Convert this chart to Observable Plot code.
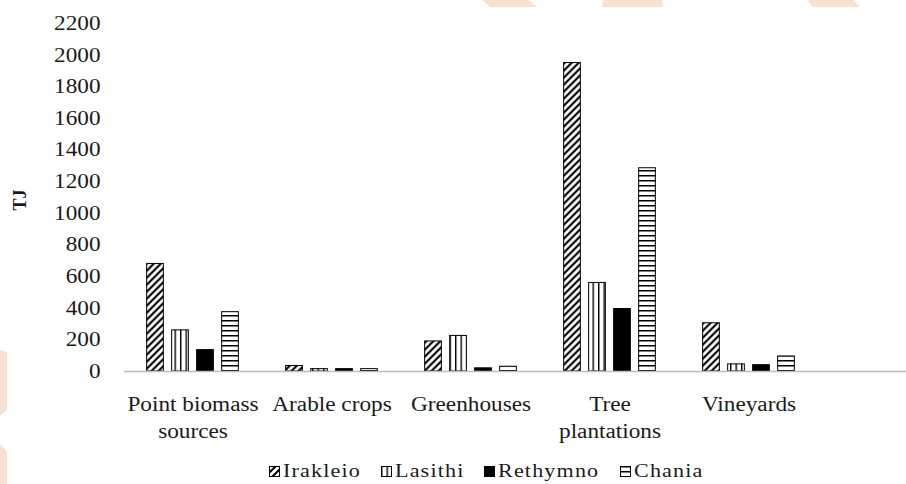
<!DOCTYPE html>
<html>
<head>
<meta charset="utf-8">
<script src="https://cdn.jsdelivr.net/npm/d3@7"></script>
<script src="https://cdn.jsdelivr.net/npm/@observablehq/plot@0.6"></script>
<style>
  html, body { margin: 0; padding: 0; background: #ffffff; }
  body { width: 906px; height: 484px; position: relative; overflow: hidden; font-family: "Liberation Serif", "DejaVu Serif", "Noto Serif", serif; }
  #watermark { position: absolute; left: 0; top: 0; z-index: 0; }
  #chart { position: relative; z-index: 1; height: 448px; }
  #legend { position: relative; z-index: 1; display: flex; justify-content: center; align-items: center;
            height: 30px; margin-top: 8px; padding-left: 66px; font-size: 19px; line-height: 22px; color: #1a1a1a; }
  .item { display: flex; align-items: center; }
  .sw { width: 11px; height: 11px; margin-right: 3px; display: block; }
  .lab { display: inline-block; transform-origin: left center; letter-spacing: 1px; white-space: nowrap; }
</style>
</head>
<body>
<svg id="watermark" width="906" height="484">
  <g fill="#f7e1d0">
    <polygon points="482,0 528,0 537,7 490,7"></polygon>
    <polygon points="603,0 662,0 663,7 602,7"></polygon>
    <polygon points="807,0 853,0 860,7 813,7"></polygon>
    <polygon points="0,350 7,352 7,410 0,416"></polygon>
    <polygon points="0,444 7,452 7,484 0,484"></polygon>
  </g>
</svg>
<svg width="0" height="0" style="position:absolute">
  <defs>
    <pattern id="pat-diag" patternUnits="userSpaceOnUse" width="7" height="7">
      <rect width="7" height="7" fill="#fff"></rect>
      <path d="M-1,1 l2,-2 M0,7 l7,-7 M6,8 l2,-2" stroke="#000" stroke-width="2.1"></path>
    </pattern>
    <pattern id="pat-vert" patternUnits="userSpaceOnUse" width="5.5" height="10">
      <rect width="5.5" height="10" fill="#fff"></rect>
      <rect x="0" y="0" width="1.4" height="10" fill="#000"></rect>
    </pattern>
    <pattern id="pat-horz" patternUnits="userSpaceOnUse" width="10" height="5">
      <rect width="10" height="5" fill="#fff"></rect>
      <rect x="0" y="0" width="10" height="1.5" fill="#000"></rect>
    </pattern>
  </defs>
</svg>
<div id="chart"></div>
<div id="legend"></div>
<script>
// ---- data ----
const categories = ["Point biomass sources", "Arable crops", "Greenhouses", "Tree plantations", "Vineyards"];
const tickLabels = ["Point biomass\nsources", "Arable crops", "Greenhouses", "Tree\nplantations", "Vineyards"];
const seriesNames = ["Irakleio", "Lasithi", "Rethymno", "Chania"];
const irakleio = [680, 35, 190, 1950, 305];
const lasithi  = [260, 15, 225, 560, 45];
const rethymno = [135, 15, 20, 395, 40];
const chania   = [375, 15, 30, 1285, 95];
const yTicks = [0, 200, 400, 600, 800, 1000, 1200, 1400, 1600, 1800, 2000, 2200];
const yLabel = "TJ";

// ---- styles ----
const FONT = "'Liberation Serif', 'DejaVu Serif', 'Noto Serif', serif";
const fills = {Irakleio: "url(#pat-diag)", Lasithi: "url(#pat-vert)", Rethymno: "#000000", Chania: "url(#pat-horz)"};
const xRange = [121, 820];
const barWidth = 17.5;
const barStep = 25;

// width factor so that a 4-digit label is ~46.5px wide at 20px (as in the reference)
const ctx = document.createElement("canvas").getContext("2d");
ctx.font = "20px " + FONT;
const STRETCH = 46.5 / ctx.measureText("2200").width;

const rows = categories.map((c, j) => ({
  category: c, Irakleio: irakleio[j], Lasithi: lasithi[j], Rethymno: rethymno[j], Chania: chania[j]
}));
const bandStep = (xRange[1] - xRange[0]) / categories.length;
const inset = (bandStep - barWidth) / 2;

const barMarks = seriesNames.map((name, i) => Plot.barY(rows, {
  x: "category",
  y: name,
  fill: fills[name],
  stroke: "#000",
  strokeWidth: 1,
  insetLeft: inset,
  insetRight: inset,
  dx: (i - (seriesNames.length - 1) / 2) * barStep
}));

const chart = Plot.plot({
  width: 906,
  height: 448,
  marginTop: 13,
  marginLeft: 124,
  marginRight: 0,
  marginBottom: 77,
  style: {fontFamily: FONT, fontSize: "20px", color: "#1a1a1a", background: "transparent"},
  x: {type: "band", domain: categories, range: xRange, padding: 0},
  y: {domain: [0, 2200], range: [371, 23]},
  marks: [
    Plot.axisY({ticks: yTicks, tickSize: 0, tickPadding: 24, line: true, stroke: "#c8c8c8", color: "#1a1a1a", fontSize: 20, label: null, tickFormat: d => String(d)}),
    Plot.axisX({tickSize: 0, tickPadding: 20, lineHeight: 1.35, fontSize: 20, label: null, color: "#1a1a1a",
                tickFormat: d => tickLabels[categories.indexOf(d)]}),
    ...barMarks,
    Plot.ruleY([0], {stroke: "#bdbdbd", strokeWidth: 1.5}),
    Plot.text([yLabel], {text: d => d, frameAnchor: "left", dx: -104, dy: 18, rotate: -90, fontWeight: "bold", fontSize: 18, fill: "#1a1a1a"})
  ]
});
document.getElementById("chart").append(chart);

// horizontally widen the glyphs of the tick labels, as in the reference
chart.querySelectorAll("text").forEach(t => {
  if (t.textContent === yLabel) return;
  const spans = t.querySelectorAll("tspan");
  const targets = spans.length ? Array.from(spans) : [t];
  targets.forEach(el => {
    const L = el.getComputedTextLength();
    if (L > 0) {
      el.setAttribute("textLength", L * STRETCH);
      el.setAttribute("lengthAdjust", "spacingAndGlyphs");
    }
  });
});

// ---- legend ----
const legend = document.getElementById("legend");
legend.style.fontFamily = FONT;
const ns = "http://www.w3.org/2000/svg";
seriesNames.forEach((name, i) => {
  const item = document.createElement("div");
  item.className = "item";
  const sw = document.createElementNS(ns, "svg");
  sw.setAttribute("class", "sw");
  sw.setAttribute("width", "11");
  sw.setAttribute("height", "11");
  const r = document.createElementNS(ns, "rect");
  r.setAttribute("x", "0.5"); r.setAttribute("y", "0.5");
  r.setAttribute("width", "10"); r.setAttribute("height", "10");
  r.setAttribute("fill", fills[name]);
  r.setAttribute("stroke", "#000");
  r.setAttribute("stroke-width", "1");
  sw.append(r);
  const lab = document.createElement("span");
  lab.className = "lab";
  lab.textContent = name;
  lab.style.transform = "scaleX(" + STRETCH + ")";
  item.append(sw, lab);
  legend.append(item);
  const w = lab.offsetWidth;
  lab.style.marginRight = (w * (STRETCH - 1) + (i < seriesNames.length - 1 ? 20 : 0)) + "px";
});
</script>
</body>
</html>
